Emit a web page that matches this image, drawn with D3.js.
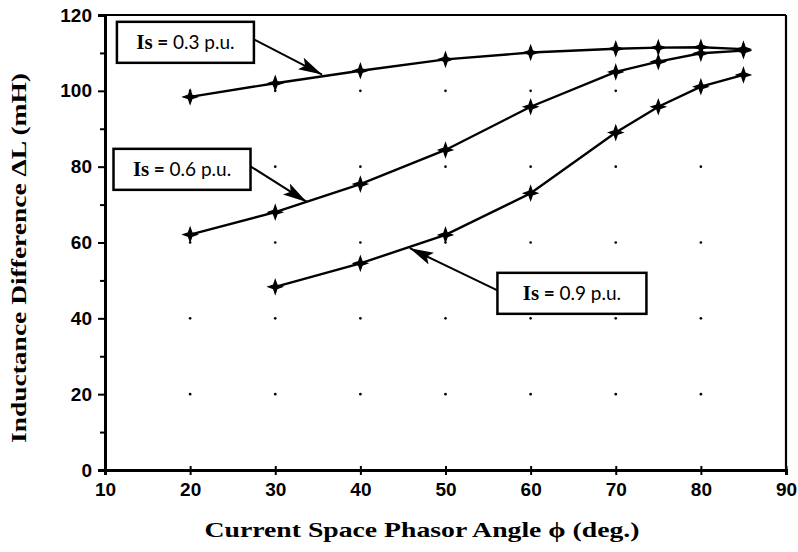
<!DOCTYPE html>
<html>
<head>
<meta charset="utf-8">
<script src="https://cdn.jsdelivr.net/npm/d3@7"></script>
<style>
  html, body { margin: 0; padding: 0; background: #fff; }
  svg { display: block; }
</style>
</head>
<body>
<svg id="chart" width="798" height="552"></svg>
<script>
// Phase-current angle (deg.) at which inductance difference was measured
const anglesA = [20, 30, 40, 50, 60, 70, 75, 80, 85];
const anglesB = [30, 40, 50, 60, 70, 75, 80, 85];

// Inductance difference ΔL (mH) for each stator current level
const dL_03 = [98.4, 102, 105.3, 108.3, 110.1, 111.1, 111.4, 111.5, 111];
const dL_06 = [62.1, 68, 75.4, 84.4, 95.8, 105, 107.7, 109.9, 110.6];
const dL_09 = [48.3, 54.5, 62, 73, 89, 95.8, 101.1, 104.2];

const xTicks = [10, 20, 30, 40, 50, 60, 70, 80, 90];
const yTicks = [0, 20, 40, 60, 80, 100, 120];

// Callout labels: current level, box corner and arrow tip in data units
const labelText = ["0.3", "0.6", "0.9"];
const labelBox = [[11.4, 118.2], [11.0, 84.7], [56.1, 52.0]];
const labelTip = [[35.5, 104.3], [33.7, 70.7], [45.8, 58.5]];

const svg = d3.select("#chart");
const x = d3.scaleLinear().domain([10, 90]).range([105, 786]);
const y = d3.scaleLinear().domain([0, 120]).range([470, 15]);

// dotted grid: small dots at the interior grid intersections
const gx = xTicks.filter(v => v > 10 && v < 90);
const gy = yTicks.filter(v => v > 0 && v < 120);
svg.append("g").selectAll("circle")
  .data(d3.cross(gx, gy))
  .join("circle")
  .attr("cx", d => x(d[0])).attr("cy", d => y(d[1]))
  .attr("r", 1.3).attr("fill", "#000");

// frame: right and top borders
svg.append("line").attr("x1", x(10)).attr("x2", x(90)).attr("y1", y(120)).attr("y2", y(120))
  .attr("stroke", "#000").attr("stroke-width", 2.2);
svg.append("line").attr("x1", x(90)).attr("x2", x(90)).attr("y1", y(120)).attr("y2", y(0))
  .attr("stroke", "#000").attr("stroke-width", 2.2);

// y axis with minor ticks
svg.append("g").attr("transform", `translate(${x(10)},0)`)
  .call(d3.axisLeft(y).tickValues(yTicks).tickSize(7).tickPadding(6).tickFormat(d3.format("d")));
svg.append("g").attr("transform", `translate(${x(10)},0)`)
  .call(d3.axisLeft(y).tickValues(d3.range(10, 120, 20)).tickSize(5).tickFormat(""))
  .call(g => g.select(".domain").remove());

// x axis
const xAxis = svg.append("g").attr("transform", `translate(0,${y(0)})`)
  .call(d3.axisBottom(x).tickValues(xTicks).tickSize(5).tickPadding(8).tickFormat(d3.format("d")));
xAxis.selectAll(".tick line").attr("y1", -4);

svg.selectAll(".domain").attr("stroke", "#000").attr("stroke-width", 3);
svg.selectAll(".tick line").attr("stroke", "#000").attr("stroke-width", 2);
svg.selectAll(".tick text")
  .attr("fill", "#000")
  .style("font-family", "'Liberation Sans', Arial, sans-serif")
  .style("font-weight", "bold")
  .style("font-size", "19px");

// axis titles (wide bold serif)
svg.append("text")
  .attr("transform", `translate(26,${258}) rotate(-90)`)
  .attr("text-anchor", "middle")
  .attr("textLength", 370).attr("lengthAdjust", "spacingAndGlyphs")
  .style("font-family", "'Liberation Serif', 'Times New Roman', serif")
  .style("font-weight", "bold")
  .style("font-size", "21px")
  .text("Inductance Difference ΔL (mH)");

svg.append("text")
  .attr("x", 422).attr("y", 537)
  .attr("text-anchor", "middle")
  .attr("textLength", 435).attr("lengthAdjust", "spacingAndGlyphs")
  .style("font-family", "'Liberation Serif', 'Times New Roman', serif")
  .style("font-weight", "bold")
  .style("font-size", "21px")
  .text("Current Space Phasor Angle ϕ (deg.)");

// data curves
const series = [
  { xs: anglesA, ys: dL_03 },
  { xs: anglesA, ys: dL_06 },
  { xs: anglesB, ys: dL_09 }
];
const line = d3.line().x(d => x(d[0])).y(d => y(d[1]));
const marker = "M0,-7L1.8,-1.8L7,0L1.8,1.8L0,7L-1.8,1.8L-7,0L-1.8,-1.8Z";

series.forEach(s => {
  const pts = s.xs.map((v, i) => [v, s.ys[i]]);
  svg.append("path").datum(pts)
    .attr("d", line).attr("fill", "none")
    .attr("stroke", "#000").attr("stroke-width", 2.4);
  svg.append("g").selectAll("path").data(pts).join("path")
    .attr("d", marker)
    .attr("transform", d => `translate(${x(d[0])},${y(d[1])})`)
    .attr("fill", "#000").attr("stroke", "#000").attr("stroke-width", 1.2);
});

// callout boxes with arrows
const defs = svg.append("defs");
defs.append("marker").attr("id", "head")
  .attr("viewBox", "0 0 24 13").attr("refX", 24).attr("refY", 6.5)
  .attr("markerWidth", 24).attr("markerHeight", 13)
  .attr("markerUnits", "userSpaceOnUse").attr("orient", "auto")
  .append("path").attr("d", "M0,0L24,6.5L0,13L5,6.5Z").attr("fill", "#000");

labelText.forEach((t, i) => {
  const bx = x(labelBox[i][0]), by = y(labelBox[i][1]);
  const w = i === 2 ? 149 : 137, h = 41;
  const tx = x(labelTip[i][0]), ty = y(labelTip[i][1]);
  const sx = i === 2 ? bx : bx + w;
  svg.append("line")
    .attr("x1", sx).attr("y1", by + h / 2 - 3)
    .attr("x2", tx).attr("y2", ty)
    .attr("stroke", "#000").attr("stroke-width", 2)
    .attr("marker-end", "url(#head)");
  svg.append("rect")
    .attr("x", bx).attr("y", by).attr("width", w).attr("height", h)
    .attr("fill", "#fff").attr("stroke", "#000").attr("stroke-width", 2.5);
  const txt = svg.append("text")
    .attr("x", bx + w / 2).attr("y", by + 27)
    .attr("text-anchor", "middle")
    .style("font-family", "Lato, 'Open Sans', sans-serif")
    .style("font-size", "19px");
  txt.append("tspan")
    .style("font-family", "'Liberation Serif', serif")
    .style("font-weight", "bold").style("font-size", "21px")
    .text("Is");
  txt.append("tspan").style("font-weight", "bold").text(" = ");
  txt.append("tspan").text(`${t} p.u.`);
});
</script>
</body>
</html>
